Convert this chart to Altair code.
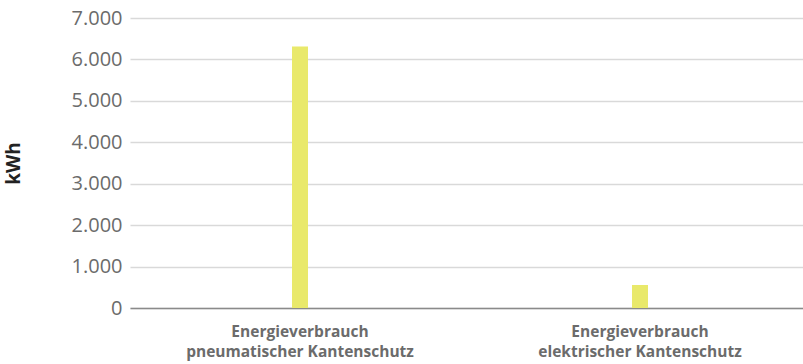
import altair as alt
import pandas as pd

categories = ["Energieverbrauch\npneumatischer Kantenschutz",
              "Energieverbrauch\nelektrischer Kantenschutz"]
values = [6310, 555]

df = pd.DataFrame({"cat": categories, "kwh": values})

chart = alt.Chart(df).mark_bar(color="#e9e96b", size=16).encode(
    x=alt.X("cat:N", sort=categories, title=None,
            scale=alt.Scale(paddingOuter=0, paddingInner=0, range=[1, 681]),
            axis=alt.Axis(labelAngle=0, labelExpr="split(datum.label, '\\n')",
                          labelFont="Open Sans", labelFontSize=15.5, labelFontWeight="bold",
                          labelColor="#6b6b6b", labelPadding=16, labelLineHeight=20,
                          labelLimit=0,
                          ticks=False, domainColor="#8a8a8a", domainWidth=1.5, grid=False)),
    y=alt.Y("kwh:Q", title="kWh",
            scale=alt.Scale(domain=[0, 7000], nice=False),
            axis=alt.Axis(values=[0, 1000, 2000, 3000, 4000, 5000, 6000, 7000],
                          labelExpr="replace(format(datum.value, ','), ',', '.')",
                          labelFont="Open Sans", labelFontSize=20, labelColor="#6b6b6b",
                          labelPadding=7, ticks=False, domain=False,
                          gridColor="#d9d9d9", gridWidth=1.5,
                          titleFont="Open Sans", titleFontSize=19, titleFontWeight="bold",
                          titleColor="#222222", titlePadding=48)),
).properties(
    width=674, height=290,
    autosize="none",
    padding={"left": 129, "top": 18, "right": 0, "bottom": 56},
).configure_view(stroke=None)

chart.save("out.html", embed_options={"renderer": "svg", "actions": False})
